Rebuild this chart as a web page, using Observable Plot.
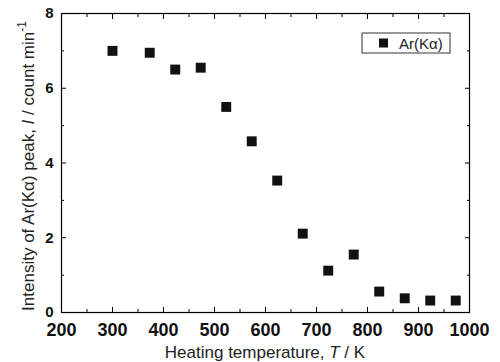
<!DOCTYPE html>
<html><head><meta charset="utf-8">
<script src="https://cdn.jsdelivr.net/npm/d3@7"></script>
<script src="https://cdn.jsdelivr.net/npm/@observablehq/plot@0.6"></script>
<style>
body{margin:0;background:#fff;}
svg{font-family:"Liberation Sans",Arial,sans-serif;}
</style></head><body><div id="chart"></div>
<script>
const temperature = [300, 373, 423, 473, 523, 573, 623, 673, 723, 773, 823, 873, 923, 973];
const intensity = [7.0, 6.95, 6.5, 6.55, 5.5, 4.58, 3.53, 2.11, 1.12, 1.55, 0.56, 0.38, 0.32, 0.32];
const xMajor = [200, 300, 400, 500, 600, 700, 800, 900, 1000];
const xMinor = [250, 350, 450, 550, 650, 750, 850, 950];
const yMajor = [0, 2, 4, 6, 8];
const yMinor = [1, 3, 5, 7];
const seriesName = "Ar(K\u03b1)";

const data = temperature.map((t, i) => ({t, v: intensity[i]}));
const W = 500, H = 362, ml = 61, mr = 31, mt = 13, mb = 50;

const chart = Plot.plot({
  width: W, height: H,
  marginLeft: ml, marginRight: mr, marginTop: mt, marginBottom: mb,
  style: {fontFamily: "'Liberation Sans', Arial, sans-serif", color: "#000", background: "#fff"},
  x: {domain: [200, 1000]},
  y: {domain: [0, 8]},
  marks: [
    Plot.frame({stroke: "#000", strokeWidth: 1.2}),
    Plot.axisX({ticks: xMajor, tickSize: -5, tickPadding: 16, label: null, tickFormat: d => String(d)}),
    Plot.axisX({ticks: xMinor, tickSize: -3, tickFormat: () => "", label: null}),
    Plot.axisX({anchor: "top", ticks: xMajor, tickSize: -5, tickFormat: () => "", label: null}),
    Plot.axisX({anchor: "top", ticks: xMinor, tickSize: -3, tickFormat: () => "", label: null}),
    Plot.axisY({ticks: yMajor, tickSize: -5, tickPadding: 13, label: null, tickFormat: d => String(d)}),
    Plot.axisY({ticks: yMinor, tickSize: -3, tickFormat: () => "", label: null}),
    Plot.axisY({anchor: "right", ticks: yMajor, tickSize: -5, tickFormat: () => "", label: null}),
    Plot.axisY({anchor: "right", ticks: yMinor, tickSize: -3, tickFormat: () => "", label: null}),
    Plot.dot(data, {x: "t", y: "v", symbol: "square", r: 5.6, fill: "#111", stroke: "none"})
  ]
});

const svg = d3.select(chart);
svg.selectAll('g[aria-label="x-axis tick label"]')
  .attr("font-family", "'Liberation Sans Narrow', 'Liberation Sans', Arial, sans-serif")
  .attr("font-size", 18).attr("font-weight", "bold").attr("fill", "#111");
svg.selectAll('g[aria-label="y-axis tick label"]')
  .attr("font-family", "'Liberation Sans Narrow', 'Liberation Sans', Arial, sans-serif")
  .attr("font-size", 15).attr("font-weight", "bold").attr("fill", "#111");
// x axis label
const xl = svg.append("text").attr("x", 265).attr("y", 358)
  .attr("text-anchor", "middle").attr("font-size", 17).attr("fill", "#222");
xl.append("tspan").text("Heating temperature, ");
xl.append("tspan").attr("font-style", "italic").text("T");
xl.append("tspan").text(" / K");
// y axis label
const yl = svg.append("text").attr("transform", "translate(34,166) rotate(-90)")
  .attr("text-anchor", "middle").attr("font-size", 17).attr("fill", "#222");
yl.append("tspan").text("Intensity of Ar(K\u03b1) peak, ");
yl.append("tspan").attr("font-style", "italic").text("I");
yl.append("tspan").text(" / count min");
yl.append("tspan").attr("dy", -8).attr("font-size", 12).text("-1");
// legend
const lg = svg.append("g").attr("transform", "translate(362,33)");
lg.append("rect").attr("width", 88).attr("height", 20).attr("fill", "#fff").attr("stroke", "#333").attr("stroke-width", 1);
lg.append("rect").attr("x", 17).attr("y", 5.5).attr("width", 9).attr("height", 9).attr("fill", "#111");
lg.append("text").attr("x", 37).attr("y", 15.5).attr("text-anchor", "start").attr("font-size", 15).attr("fill", "#222").text(seriesName);

document.getElementById("chart").appendChild(chart);
</script></body></html>
